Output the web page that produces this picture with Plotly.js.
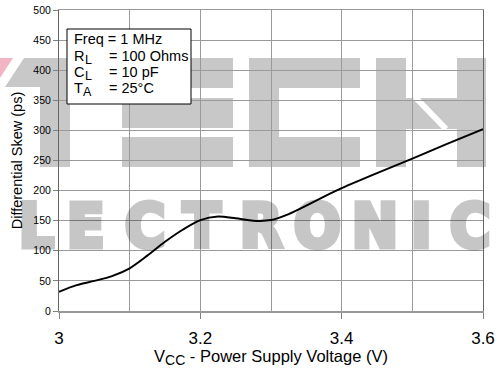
<!DOCTYPE html>
<html>
<head>
<meta charset="utf-8">
<script src="https://cdn.plot.ly/plotly-3.0.1.min.js"></script>
<style>
  html, body { margin: 0; padding: 0; background: #ffffff; }
  #chart { width: 498px; height: 368px; }
</style>
</head>
<body>
<div id="chart"></div>
<script>
// Differential skew versus supply voltage
const vcc = [3.000, 3.025, 3.050, 3.075, 3.100, 3.125, 3.150, 3.175, 3.200, 3.225, 3.250,
             3.275, 3.300, 3.325, 3.350, 3.375, 3.400, 3.450, 3.500, 3.550, 3.600];
const skewPs = [32, 43, 50, 58, 71, 92, 115, 135, 151, 157, 154,
                150, 151, 161, 175, 190, 204, 229, 253, 278, 302];

const xTickVals = [3, 3.2, 3.4, 3.6];
const xTickText = ['3', '3.2', '3.4', '3.6'];

// Test conditions box
const freqLine = 'Freq = 1 MHz';
const conditionSymbols = ['R', 'C', 'T'];
const conditionSubscripts = ['L', 'L', 'A'];
const conditionValues = ['= 100 Ohms', '= 10 pF', '= 25°C'];

// Background logo lettering
const logoLetters = ['L', 'E', 'C', 'T', 'R', 'O', 'N', 'I', 'C'];

const FONT = 'Liberation Sans, Arial, sans-serif';
const LOGO_FONT = 'Liberation Sans Narrow, DejaVu Sans Condensed, Liberation Sans, sans-serif';

// plot area in page pixels (matches the margins below)
const PL = 59, PR = 483, PT = 10, PB = 311;
const px = p => (p - PL) / (PR - PL);
const py = p => (PB - p) / (PB - PT);

const GRAY = '#c8c8c8';
function rect(x0, y0, x1, y1, color) {
  return { type: 'rect', xref: 'paper', yref: 'paper', layer: 'below',
           x0: px(x0), x1: px(x1), y0: py(y1), y1: py(y0),
           fillcolor: color || GRAY, line: { width: 0 } };
}
function poly(points, color) {
  const d = points.map((p, i) => (i ? 'L' : 'M') + px(p[0]) + ',' + py(p[1])).join(' ') + ' Z';
  return { type: 'path', xref: 'paper', yref: 'paper', layer: 'below', path: d,
           fillcolor: color || GRAY, line: { width: 0 } };
}

const shapes = [
  // T
  poly([[0, 58], [13, 58], [0, 78]], '#f3b5c3'),
  poly([[24, 58], [115, 58], [115, 87], [5, 87]]),
  rect(40, 58, 70, 167),
  // E
  rect(122, 58, 233, 88),
  rect(122, 98, 233, 128),
  rect(122, 137, 233, 167),
  // C
  rect(249, 58, 279, 167),
  rect(279, 58, 360, 88),
  rect(279, 137, 360, 167),
  // H
  rect(376, 58, 406, 167),
  rect(457, 58, 486, 167),
  rect(406, 98, 457, 129),
  { type: 'line', xref: 'paper', yref: 'paper', layer: 'below',
    x0: px(415), y0: py(97), x1: px(446), y1: py(129),
    line: { color: '#ffffff', width: 6 } },
  // conditions box
  { type: 'rect', xref: 'paper', yref: 'paper', layer: 'above',
    x0: px(67), x1: px(191), y0: py(104), y1: py(29),
    fillcolor: '#ffffff', line: { color: '#000000', width: 1 } }
];

const annotations = [];
const letterX = [36, 86, 145, 202, 261, 317, 375, 421, 470];
logoLetters.forEach((ch, i) => {
  annotations.push({
    text: '<span style="stroke:#000000;stroke-width:5px;stroke-linejoin:miter">' + ch + '</span>',
    xref: 'paper', yref: 'paper', x: px(letterX[i]), y: py(225),
    xanchor: 'center', yanchor: 'middle', showarrow: false, opacity: 0.22,
    font: { family: LOGO_FONT, size: 61, weight: 'bold', color: '#000000' }
  });
});

function label(text, x, y, size) {
  annotations.push({
    text: text, xref: 'paper', yref: 'paper', x: px(x), y: py(y),
    xanchor: 'left', yanchor: 'middle', showarrow: false,
    font: { family: FONT, size: size, color: '#000000' }
  });
}
label(freqLine, 72, 39, 14.5);
const rowY = [56, 72, 88];
const subX = [82.5, 82.5, 81];
conditionSymbols.forEach((sym, i) => {
  label(sym, 72, rowY[i], 14.5);
  label(conditionSubscripts[i], subX[i], rowY[i] + 3.5, 12.5);
  label(conditionValues[i], 107, rowY[i], 14.5);
});

const trace = {
  x: vcc, y: skewPs, type: 'scatter', mode: 'lines',
  line: { color: '#000000', width: 2, shape: 'spline', smoothing: 0.8 },
  hoverinfo: 'skip', showlegend: false
};

const layout = {
  width: 498, height: 368,
  margin: { l: PL, r: 498 - PR, t: PT, b: 368 - PB },
  paper_bgcolor: '#ffffff', plot_bgcolor: 'rgba(0,0,0,0)',
  font: { family: FONT, color: '#000000' },
  showlegend: false,
  xaxis: {
    range: [3, 3.6], tickvals: xTickVals, ticktext: xTickText,
    ticks: 'outside', ticklen: 6, tickcolor: '#808080',
    ticklabelstandoff: 5,
    tickfont: { size: 17 },
    showgrid: true, gridcolor: '#9a9a9a', gridwidth: 1,
    minor: { dtick: 0.1, tick0: 3, showgrid: true, gridcolor: '#9a9a9a', gridwidth: 1, ticks: '' },
    showline: true, linecolor: '#999999', linewidth: 1.5, mirror: true,
    zeroline: false,
    title: { text: 'V<sub><span style="font-size:14px">CC</span></sub> - Power Supply Voltage (V)',
             font: { size: 16.5 }, standoff: 0 }
  },
  yaxis: {
    range: [0, 500], dtick: 50, tick0: 0,
    ticks: 'outside', ticklen: 5, tickcolor: '#808080',
    tickfont: { size: 10.5 },
    showgrid: true, gridcolor: '#9a9a9a', gridwidth: 1,
    showline: true, linecolor: '#666666', linewidth: 1, mirror: true,
    zeroline: false,
    title: { text: 'Differential Skew (ps)', font: { size: 14.5 }, standoff: 7 }
  },
  shapes: shapes,
  annotations: annotations
};

Plotly.newPlot('chart', [trace], layout, { displayModeBar: false, staticPlot: true });
</script>
</body>
</html>
